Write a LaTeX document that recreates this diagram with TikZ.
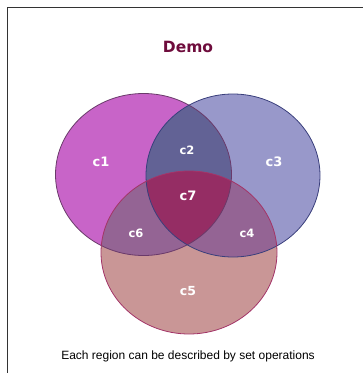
\documentclass[tikz,border=0pt]{standalone}
\usepackage{fontspec}
\setmainfont{Liberation Sans}
\newfontfamily\labelfont{DejaVu Sans}
\usepackage{xcolor}
\usetikzlibrary{positioning}
\definecolor{setone}  {HTML}{C864C8}
\definecolor{setthree}{HTML}{9898CA}
\definecolor{setfive} {HTML}{C99696}
\definecolor{onethree}{HTML}{626295}
\definecolor{onefive} {HTML}{946494}
\definecolor{threefive}{HTML}{946494}
\definecolor{allthree}{HTML}{952D64}
\definecolor{lineone} {HTML}{6A3A6A}
\definecolor{linethree}{HTML}{3A3F7C}
\definecolor{linefive}{HTML}{A33468}
\definecolor{titlecol}{HTML}{6E0C3C}
\definecolor{framecol}{HTML}{333333}

\begin{document}
\begin{tikzpicture}[x=1pt,y=-1pt,
    rone/.style={x radius=88,y radius=81},
    rthree/.style={x radius=87,y radius=81.5},
    rfive/.style={x radius=88,y radius=81.5},
    region/.style={font=\labelfont\bfseries,text=white,inner sep=0pt}]
  \useasboundingbox (0,0) rectangle (363,373);
  \draw[framecol,line width=1pt] (7,373) -- (7,7) -- (363,7);
  \coordinate (ca) at (143.5,174.5);
  \coordinate (cb) at (233,175.5);
  \coordinate (cc) at (189,252.5);
  % plain sets
  \fill[setone]   (ca) ellipse [rone];
  \fill[setthree] (cb) ellipse [rthree];
  \fill[setfive]  (cc) ellipse [rfive];
  % overlaps
  \begin{scope}
    \clip (ca) ellipse [rone];
    \fill[onethree] (cb) ellipse [rthree];
    \fill[onefive]  (cc) ellipse [rfive];
  \end{scope}
  \begin{scope}
    \clip (cb) ellipse [rthree];
    \fill[threefive] (cc) ellipse [rfive];
    \clip (ca) ellipse [rone];
    \fill[allthree] (cc) ellipse [rfive];
  \end{scope}
  \draw[lineone,line width=0.8pt]   (ca) ellipse [rone];
  \draw[linethree,line width=0.8pt] (cb) ellipse [rthree];
  \draw[linefive,line width=0.8pt]  (cc) ellipse [rfive];
  % labels
  \foreach \name/\x/\y/\s in {c1/101/162/13,c3/274/162/13,c7/188/196/13,
                              c2/187/150/11.5,c6/136/233/11.5,c4/247/233/11.5,c5/188/291/12.5}{
    \node[region,font=\labelfont\bfseries\fontsize{\s}{\s}\selectfont] (lab\name) at (\x,\y) {\name};}
  \node[font=\labelfont\bfseries\fontsize{15.5}{15.5}\selectfont,text=titlecol] (title) at (188,47) {Demo};
  \node[font=\fontsize{12}{12}\selectfont] (caption) at (188,356) {Each region can be described by set operations};
\end{tikzpicture}
\end{document}
